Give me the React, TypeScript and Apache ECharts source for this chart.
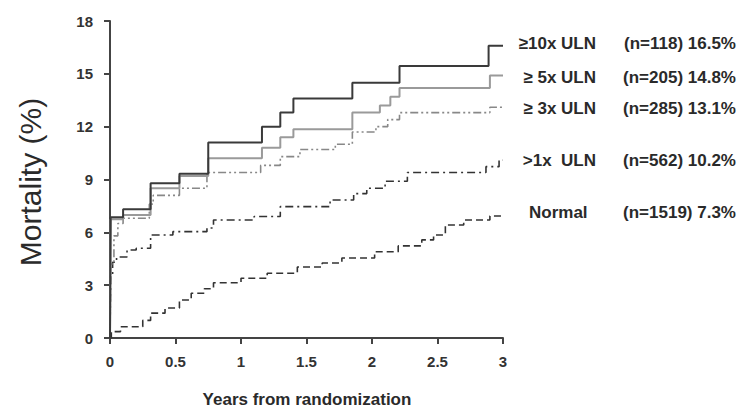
import React, { useEffect, useRef } from "react";
import * as echarts from "echarts";

// Kaplan-Meier style curves: [years, mortality %] change points
const normal: [number, number][] = [
  [0, 0], [0.01, 0.36], [0.08, 0.64], [0.25, 1.0], [0.31, 1.41], [0.42, 1.7], [0.53, 2.16],
  [0.62, 2.54], [0.72, 2.8], [0.79, 3.14], [1.0, 3.39], [1.2, 3.68], [1.43, 4.03], [1.62, 4.26],
  [1.77, 4.54], [2.02, 4.9], [2.2, 5.23], [2.38, 5.57], [2.47, 5.85], [2.56, 6.42], [2.7, 6.7],
  [2.9, 6.93], [3, 6.93],
];
const gt1x: [number, number][] = [
  [0, 0], [0.005, 3.5], [0.02, 4.3], [0.05, 4.6], [0.13, 5.0], [0.2, 5.1], [0.31, 5.85],
  [0.48, 6.04], [0.74, 6.25], [0.79, 6.7], [1.1, 6.9], [1.3, 7.46], [1.68, 7.84], [1.86, 8.2],
  [1.96, 8.5], [2.1, 8.9], [2.27, 9.4], [2.87, 9.73], [2.97, 10.1], [3, 10.1],
];
const ge3x: [number, number][] = [
  [0, 0], [0.005, 4.2], [0.03, 5.8], [0.06, 6.5], [0.1, 6.8], [0.3, 7.6], [0.33, 8.1],
  [0.53, 8.5], [0.74, 9.4], [1.15, 9.8], [1.3, 10.3], [1.45, 10.7], [1.72, 11.0], [1.85, 11.7],
  [2.03, 12.0], [2.12, 12.4], [2.21, 12.8], [2.9, 13.1], [3, 13.1],
];
const ge5x: [number, number][] = [
  [0, 0], [0.005, 6.74], [0.1, 6.99], [0.31, 8.5], [0.53, 9.2], [0.75, 10.2], [1.16, 10.8],
  [1.3, 11.4], [1.4, 11.85], [1.85, 12.8], [2.06, 13.2], [2.14, 13.7], [2.21, 14.2],
  [2.9, 14.9], [3, 14.9],
];
const ge10x: [number, number][] = [
  [0, 0], [0.005, 6.86], [0.1, 7.31], [0.31, 8.79], [0.53, 9.32], [0.75, 11.1], [1.16, 12.0],
  [1.3, 12.8], [1.4, 13.6], [1.85, 14.5], [2.21, 15.45], [2.89, 16.6], [3, 16.6],
];

const groupLabels = ["≥10x ULN", "≥ 5x ULN", "≥ 3x ULN", ">1x  ULN", "Normal"];
const groupStats = ["(n=118) 16.5%", "(n=205) 14.8%", "(n=285) 13.1%", "(n=562) 10.2%", "(n=1519) 7.3%"];
const labelRowY = [43, 77, 108, 160, 212];

const xName = "Years from randomization";
const yName = "Mortality (%)";

const FONT = "'Liberation Sans', Arial, Helvetica, sans-serif";

export default function App() {
  const ref = useRef<HTMLDivElement>(null);
  useEffect(() => {
    const chart = echarts.init(ref.current!, undefined, { renderer: "svg" });
    const legendTexts: any[] = [];
    groupLabels.forEach((l, i) => {
      legendTexts.push({
        type: "text",
        x: i === 4 ? 529 : 596,
        y: labelRowY[i],
        style: {
          text: l,
          font: `bold 17px ${FONT}`,
          fill: "#2a2a2a",
          align: i === 4 ? "left" : "right",
          verticalAlign: "middle",
        },
      });
      legendTexts.push({
        type: "text",
        x: 736,
        y: labelRowY[i],
        style: {
          text: groupStats[i],
          font: `bold 17px ${FONT}`,
          fill: "#2a2a2a",
          align: "right",
          verticalAlign: "middle",
        },
      });
    });
    const mk = (name: string, data: [number, number][], color: string, width: number, type: any, z: number) => ({
      name,
      type: "line",
      step: "end",
      data,
      symbol: "none",
      z,
      lineStyle: { color, width, type },
    });
    chart.setOption({
      animation: false,
      backgroundColor: "#ffffff",
      grid: { left: 110, right: 235, top: 21, bottom: 72 },
      xAxis: {
        type: "value",
        min: 0,
        max: 3,
        interval: 0.5,
        axisLine: { show: true, lineStyle: { color: "#444", width: 2 } },
        axisTick: { show: true, length: 6, lineStyle: { color: "#444", width: 2 } },
        axisLabel: { margin: 16, color: "#333", fontWeight: "bold", fontSize: 15, fontFamily: FONT },
        splitLine: { show: false },
      },
      yAxis: {
        type: "value",
        min: 0,
        max: 18,
        interval: 3,
        axisLine: { show: true, lineStyle: { color: "#444", width: 2 } },
        axisTick: { show: true, length: 6, lineStyle: { color: "#444", width: 2 } },
        axisLabel: { margin: 17, color: "#333", fontWeight: "bold", fontSize: 15, fontFamily: FONT },
        splitLine: { show: false },
      },
      series: [
        mk("Normal", normal, "#333", 1.6, [7, 4], 1),
        mk(">1x ULN", gt1x, "#333", 1.6, [8, 4, 2, 4], 2),
        mk("≥ 3x ULN", ge3x, "#888", 1.6, [8, 3, 2, 3, 2, 3], 3),
        mk("≥ 5x ULN", ge5x, "#9a9a9a", 2, "solid", 4),
        mk("≥10x ULN", ge10x, "#3a3a3a", 2, "solid", 5),
      ],
      graphic: [
        {
          type: "text",
          x: 307,
          y: 399,
          style: {
            text: xName,
            font: `bold 17px ${FONT}`,
            fill: "#2a2a2a",
            align: "center",
            verticalAlign: "middle",
          },
        },
        {
          type: "text",
          x: 30,
          y: 182,
          rotation: Math.PI / 2,
          style: {
            text: yName,
            font: `30px ${FONT}`,
            fill: "#2a2a2a",
            align: "center",
            verticalAlign: "middle",
          },
        },
        ...legendTexts,
      ],
    });
    return () => chart.dispose();
  }, []);
  return <div ref={ref} style={{ position: "fixed", left: 0, top: 0, width: 738, height: 410 }} />;
}
